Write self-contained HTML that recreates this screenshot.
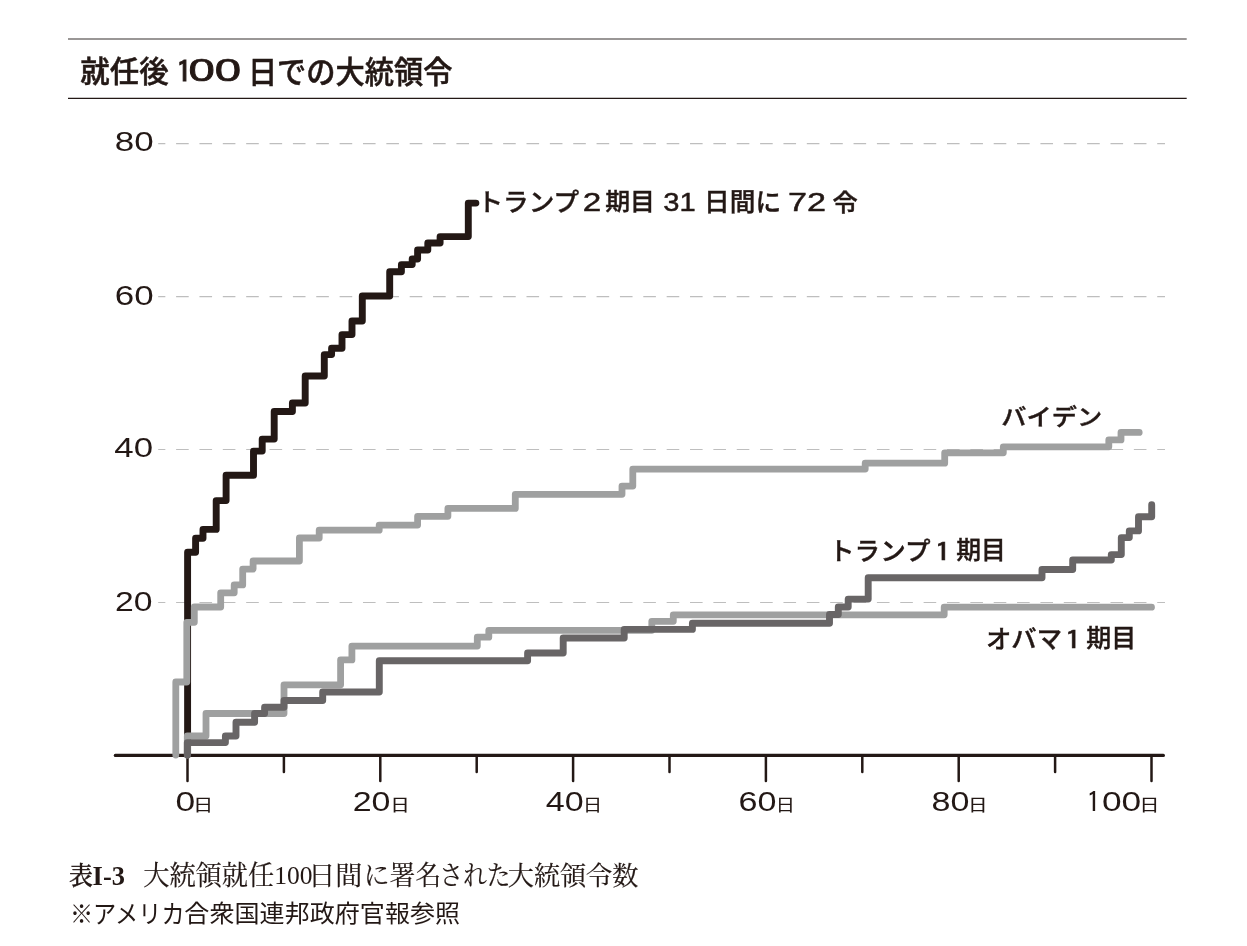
<!DOCTYPE html>
<html lang="ja"><head><meta charset="utf-8"><title>就任後100日での大統領令</title>
<style>
html,body{margin:0;padding:0;background:#fff;}
body{width:1247px;height:946px;overflow:hidden;position:relative;}
svg{position:absolute;left:0;top:0;display:block;}
text{font-family:"Liberation Sans","Noto Sans CJK JP",sans-serif;fill:#231815;}
.serif{font-family:"Liberation Serif","Noto Serif CJK JP","Noto Serif CJK SC",serif;}
.one{font-family:"IPAGothic","NanumGothic",sans-serif;}
</style></head><body>
<svg width="1247" height="946" viewBox="0 0 1247 946">
<rect width="1247" height="946" fill="#fff"/>
<line x1="68" y1="38.9" x2="1186.7" y2="38.9" stroke="#787573" stroke-width="1.5"/>
<line x1="68" y1="98.3" x2="1186.7" y2="98.3" stroke="#231815" stroke-width="1.15"/>
<line x1="158.2" y1="143.6" x2="1165" y2="143.6" stroke="#bebebe" stroke-width="1.2" stroke-dasharray="12.6 10.76" stroke-dashoffset="5.46"/>
<line x1="158.2" y1="296.6" x2="1165" y2="296.6" stroke="#bebebe" stroke-width="1.2" stroke-dasharray="12.6 10.76" stroke-dashoffset="5.46"/>
<line x1="158.2" y1="449.5" x2="1165" y2="449.5" stroke="#bebebe" stroke-width="1.2" stroke-dasharray="12.6 10.76" stroke-dashoffset="5.46"/>
<line x1="158.2" y1="602.5" x2="1165" y2="602.5" stroke="#bebebe" stroke-width="1.2" stroke-dasharray="12.6 10.76" stroke-dashoffset="5.46"/>
<line x1="115.3" y1="755.4" x2="1163.4" y2="755.4" stroke="#231815" stroke-width="3.1" stroke-linecap="round"/>
<line x1="187.5" y1="755.4" x2="187.5" y2="781.0" stroke="#231815" stroke-width="2.5" stroke-linecap="round"/>
<line x1="283.9" y1="755.4" x2="283.9" y2="772.0" stroke="#231815" stroke-width="2.5" stroke-linecap="round"/>
<line x1="380.3" y1="755.4" x2="380.3" y2="781.0" stroke="#231815" stroke-width="2.5" stroke-linecap="round"/>
<line x1="476.7" y1="755.4" x2="476.7" y2="772.0" stroke="#231815" stroke-width="2.5" stroke-linecap="round"/>
<line x1="573.1" y1="755.4" x2="573.1" y2="781.0" stroke="#231815" stroke-width="2.5" stroke-linecap="round"/>
<line x1="669.5" y1="755.4" x2="669.5" y2="772.0" stroke="#231815" stroke-width="2.5" stroke-linecap="round"/>
<line x1="765.9" y1="755.4" x2="765.9" y2="781.0" stroke="#231815" stroke-width="2.5" stroke-linecap="round"/>
<line x1="862.3" y1="755.4" x2="862.3" y2="772.0" stroke="#231815" stroke-width="2.5" stroke-linecap="round"/>
<line x1="958.7" y1="755.4" x2="958.7" y2="781.0" stroke="#231815" stroke-width="2.5" stroke-linecap="round"/>
<line x1="1055.1" y1="755.4" x2="1055.1" y2="772.0" stroke="#231815" stroke-width="2.5" stroke-linecap="round"/>
<line x1="1151.5" y1="755.4" x2="1151.5" y2="781.0" stroke="#231815" stroke-width="2.5" stroke-linecap="round"/>
<path d="M187.6,755.0 L187.6,552.2 L195.6,552.2 L195.6,538.2 L203.0,538.2 L203.0,529.4 L216.2,529.4 L216.2,500.6 L226.1,500.6 L226.1,475.3 L253.5,475.3 L253.5,451.1 L262.2,451.1 L262.2,439.1 L274.2,439.1 L274.2,411.5 L292.4,411.5 L292.4,403.0 L305.2,403.0 L305.2,376.0 L324.3,376.0 L324.3,354.6 L331.6,354.6 L331.6,348.2 L342.0,348.2 L342.0,334.6 L352.0,334.6 L352.0,321.0 L362.3,321.0 L362.3,296.0 L389.7,296.0 L389.7,271.7 L401.4,271.7 L401.4,264.6 L412.2,264.6 L412.2,259.0 L417.6,259.0 L417.6,250.0 L427.8,250.0 L427.8,243.0 L440.1,243.0 L440.1,236.6 L468.3,236.6 L468.3,203.1 L475.9,203.1" fill="none" stroke="#231815" stroke-width="6.9" stroke-linejoin="round" stroke-linecap="round"/>
<path d="M175.8,755.0 L175.8,682.0 L186.8,682.0 L186.8,622.3 L194.3,622.3 L194.3,607.0 L220.7,607.0 L220.7,592.8 L234.2,592.8 L234.2,584.9 L242.7,584.9 L242.7,569.1 L253.1,569.1 L253.1,561.0 L299.4,561.0 L299.4,538.0 L319.2,538.0 L319.2,530.2 L379.2,530.2 L379.2,525.1 L417.6,525.1 L417.6,516.3 L447.9,516.3 L447.9,508.4 L515.3,508.4 L515.3,494.3 L622.0,494.3 L622.0,486.1 L632.8,486.1 L632.8,469.1 L865.2,469.1 L865.2,463.2 L944.7,463.2 L944.7,452.8 L1003.3,452.8 L1003.3,446.8 L1108.8,446.8 L1108.8,439.9 L1121.0,439.9 L1121.0,432.4 L1139.2,432.4" fill="none" stroke="#9fa0a0" stroke-width="6.8" stroke-linejoin="round" stroke-linecap="round"/>
<path d="M187.3,755.0 L187.3,736.0 L206.0,736.0 L206.0,713.5 L284.0,713.5 L284.0,684.8 L340.6,684.8 L340.6,659.9 L351.9,659.9 L351.9,646.1 L477.3,646.1 L477.3,637.2 L488.8,637.2 L488.8,630.3 L651.8,630.3 L651.8,621.3 L673.3,621.3 L673.3,614.8 L944.2,614.8 L944.2,607.2 L1151.5,607.2" fill="none" stroke="#9fa0a0" stroke-width="6.8" stroke-linejoin="round" stroke-linecap="round"/>
<path d="M187.3,755.0 L187.3,742.6 L225.4,742.6 L225.4,736.0 L236.0,736.0 L236.0,722.2 L254.6,722.2 L254.6,713.5 L264.6,713.5 L264.6,707.2 L284.0,707.2 L284.0,700.5 L322.7,700.5 L322.7,692.0 L379.3,692.0 L379.3,660.8 L527.6,660.8 L527.6,653.0 L563.2,653.0 L563.2,638.0 L624.2,638.0 L624.2,629.4 L692.4,629.4 L692.4,623.2 L829.5,623.2 L829.5,614.5 L838.3,614.5 L838.3,607.0 L848.2,607.0 L848.2,599.1 L868.2,599.1 L868.2,577.7 L1042.0,577.7 L1042.0,569.5 L1072.7,569.5 L1072.7,560.0 L1111.3,560.0 L1111.3,554.6 L1121.3,554.6 L1121.3,537.6 L1129.3,537.6 L1129.3,530.9 L1138.5,530.9 L1138.5,516.7 L1151.7,516.7 L1151.7,504.7" fill="none" stroke="#686566" stroke-width="6.9" stroke-linejoin="round" stroke-linecap="round"/>
<text><tspan x="80.30" y="81.95" font-size="30.0" font-weight="500" stroke="#231815" stroke-width="0.5" textLength="88.28" lengthAdjust="spacingAndGlyphs">就任後</tspan><tspan> </tspan><tspan x="176.09" y="82.95" font-size="30.28" class="one" stroke="#231815" stroke-width="1.0" textLength="16.22" lengthAdjust="spacingAndGlyphs">1</tspan><tspan x="188.46" y="81.45" font-size="30.7" stroke="#231815" stroke-width="0.7" textLength="52.60" lengthAdjust="spacingAndGlyphs">00</tspan><tspan> </tspan><tspan x="247.89" y="82.55" font-size="30.43" font-weight="500" stroke="#231815" stroke-width="0.5" textLength="204.75" lengthAdjust="spacingAndGlyphs">日での大統領令</tspan></text>
<text><tspan x="114.76" y="151.40" font-size="28.17" textLength="38.89" lengthAdjust="spacingAndGlyphs">80</tspan></text>
<text><tspan x="114.86" y="304.50" font-size="28.17" textLength="38.89" lengthAdjust="spacingAndGlyphs">60</tspan></text>
<text><tspan x="114.34" y="457.45" font-size="27.75" textLength="38.75" lengthAdjust="spacingAndGlyphs">40</tspan></text>
<text><tspan x="115.08" y="610.60" font-size="27.61" textLength="37.50" lengthAdjust="spacingAndGlyphs">20</tspan></text>
<text><tspan x="175.62" y="810.65" font-size="27.75" textLength="19.71" lengthAdjust="spacingAndGlyphs">0</tspan><tspan x="193.30" y="810.70" font-size="16.53" stroke="#231815" stroke-width="0.15" textLength="19.84" lengthAdjust="spacingAndGlyphs">日</tspan></text>
<text><tspan x="352.68" y="810.65" font-size="27.75" textLength="37.79" lengthAdjust="spacingAndGlyphs">20</tspan><tspan x="390.54" y="810.70" font-size="16.53" stroke="#231815" stroke-width="0.15" textLength="19.09" lengthAdjust="spacingAndGlyphs">日</tspan></text>
<text><tspan x="545.87" y="810.65" font-size="27.75" textLength="37.90" lengthAdjust="spacingAndGlyphs">40</tspan><tspan x="583.04" y="810.70" font-size="16.53" stroke="#231815" stroke-width="0.15" textLength="19.09" lengthAdjust="spacingAndGlyphs">日</tspan></text>
<text><tspan x="738.57" y="810.65" font-size="27.75" textLength="37.90" lengthAdjust="spacingAndGlyphs">60</tspan><tspan x="775.74" y="810.70" font-size="16.53" stroke="#231815" stroke-width="0.15" textLength="19.09" lengthAdjust="spacingAndGlyphs">日</tspan></text>
<text><tspan x="931.57" y="810.65" font-size="27.75" textLength="37.90" lengthAdjust="spacingAndGlyphs">80</tspan><tspan x="968.24" y="810.70" font-size="16.53" stroke="#231815" stroke-width="0.15" textLength="19.09" lengthAdjust="spacingAndGlyphs">日</tspan></text>
<text><tspan x="1086.25" y="812.15" font-size="27.75" class="one" textLength="14.57" lengthAdjust="spacingAndGlyphs">1</tspan><tspan x="1101.93" y="810.65" font-size="27.75" textLength="39.29" lengthAdjust="spacingAndGlyphs">00</tspan><tspan x="1139.60" y="810.70" font-size="16.53" stroke="#231815" stroke-width="0.15" textLength="19.84" lengthAdjust="spacingAndGlyphs">日</tspan></text>
<text><tspan x="477.45" y="211.20" font-size="25.17" font-weight="500" stroke="#231815" stroke-width="0.4" textLength="101.72" lengthAdjust="spacingAndGlyphs">トランプ</tspan><tspan x="582.65" y="210.50" font-size="26.5" stroke="#231815" stroke-width="0.45" textLength="18.49" lengthAdjust="spacingAndGlyphs">2</tspan><tspan x="605.20" y="210.05" font-size="24.41" font-weight="500" stroke="#231815" stroke-width="0.4" textLength="49.79" lengthAdjust="spacingAndGlyphs">期目</tspan><tspan> </tspan><tspan x="663.39" y="210.50" font-size="26.13" stroke="#231815" stroke-width="0.45" textLength="32.40" lengthAdjust="spacingAndGlyphs">31</tspan><tspan> </tspan><tspan x="704.13" y="210.55" font-size="25.22" font-weight="500" stroke="#231815" stroke-width="0.4" textLength="76.95" lengthAdjust="spacingAndGlyphs">日間に</tspan><tspan> </tspan><tspan x="788.11" y="210.50" font-size="26.5" stroke="#231815" stroke-width="0.45" textLength="38.01" lengthAdjust="spacingAndGlyphs">72</tspan><tspan> </tspan><tspan x="832.45" y="210.55" font-size="24.15" font-weight="500" stroke="#231815" stroke-width="0.4" textLength="25.29" lengthAdjust="spacingAndGlyphs">令</tspan></text>
<text><tspan x="1001.31" y="424.75" font-size="23.12" font-weight="500" stroke="#231815" stroke-width="0.4" textLength="100.98" lengthAdjust="spacingAndGlyphs">バイデン</tspan></text>
<text><tspan x="829.12" y="560.05" font-size="25.28" font-weight="500" stroke="#231815" stroke-width="0.4" textLength="101.30" lengthAdjust="spacingAndGlyphs">トランプ</tspan><tspan x="934.36" y="560.55" font-size="25.07" class="one" stroke="#231815" stroke-width="0.5" textLength="17.29" lengthAdjust="spacingAndGlyphs">1</tspan><tspan x="956.20" y="559.20" font-size="24.95" font-weight="500" stroke="#231815" stroke-width="0.4" textLength="49.66" lengthAdjust="spacingAndGlyphs">期目</tspan></text>
<text><tspan x="985.93" y="648.00" font-size="24.55" font-weight="500" stroke="#231815" stroke-width="0.4" textLength="76.06" lengthAdjust="spacingAndGlyphs">オバマ</tspan><tspan x="1064.56" y="648.75" font-size="25.07" class="one" stroke="#231815" stroke-width="0.5" textLength="17.29" lengthAdjust="spacingAndGlyphs">1</tspan><tspan x="1086.20" y="647.30" font-size="24.73" font-weight="500" stroke="#231815" stroke-width="0.4" textLength="49.99" lengthAdjust="spacingAndGlyphs">期目</tspan></text>
<text><tspan x="69.06" y="884.60" font-size="25.59" font-weight="500" class="serif" stroke="#231815" stroke-width="0.35" textLength="23.98" lengthAdjust="spacingAndGlyphs">表</tspan><tspan x="92.61" y="884.70" font-size="26.76" font-weight="700" class="serif" textLength="32.28" lengthAdjust="spacingAndGlyphs">I-3</tspan><tspan> </tspan><tspan x="143.22" y="885.35" font-size="26.85" class="serif" stroke="#231815" stroke-width="0.2" textLength="130.99" lengthAdjust="spacingAndGlyphs">大統領就任</tspan><tspan x="274.25" y="884.20" font-size="26.18" class="serif" textLength="38.28" lengthAdjust="spacingAndGlyphs">100</tspan><tspan x="308.20" y="884.85" font-size="26.11" class="serif" stroke="#231815" stroke-width="0.2" textLength="54.32" lengthAdjust="spacingAndGlyphs">日間</tspan><tspan x="363.71" y="885.35" font-size="26.85" class="serif" stroke="#231815" stroke-width="0.2" textLength="77.54" lengthAdjust="spacingAndGlyphs">に署名</tspan><tspan x="439.49" y="884.85" font-size="27.02" class="serif" stroke="#231815" stroke-width="0.2" textLength="71.09" lengthAdjust="spacingAndGlyphs">された</tspan><tspan x="507.82" y="884.85" font-size="26.56" class="serif" stroke="#231815" stroke-width="0.2" textLength="130.52" lengthAdjust="spacingAndGlyphs">大統領令数</tspan></text>
<text><tspan x="69.93" y="922.50" font-size="25.06" textLength="114.66" lengthAdjust="spacingAndGlyphs">※アメリカ</tspan><tspan x="184.36" y="921.65" font-size="24.15" textLength="275.74" lengthAdjust="spacingAndGlyphs">合衆国連邦政府官報参照</tspan></text>
</svg></body></html>
